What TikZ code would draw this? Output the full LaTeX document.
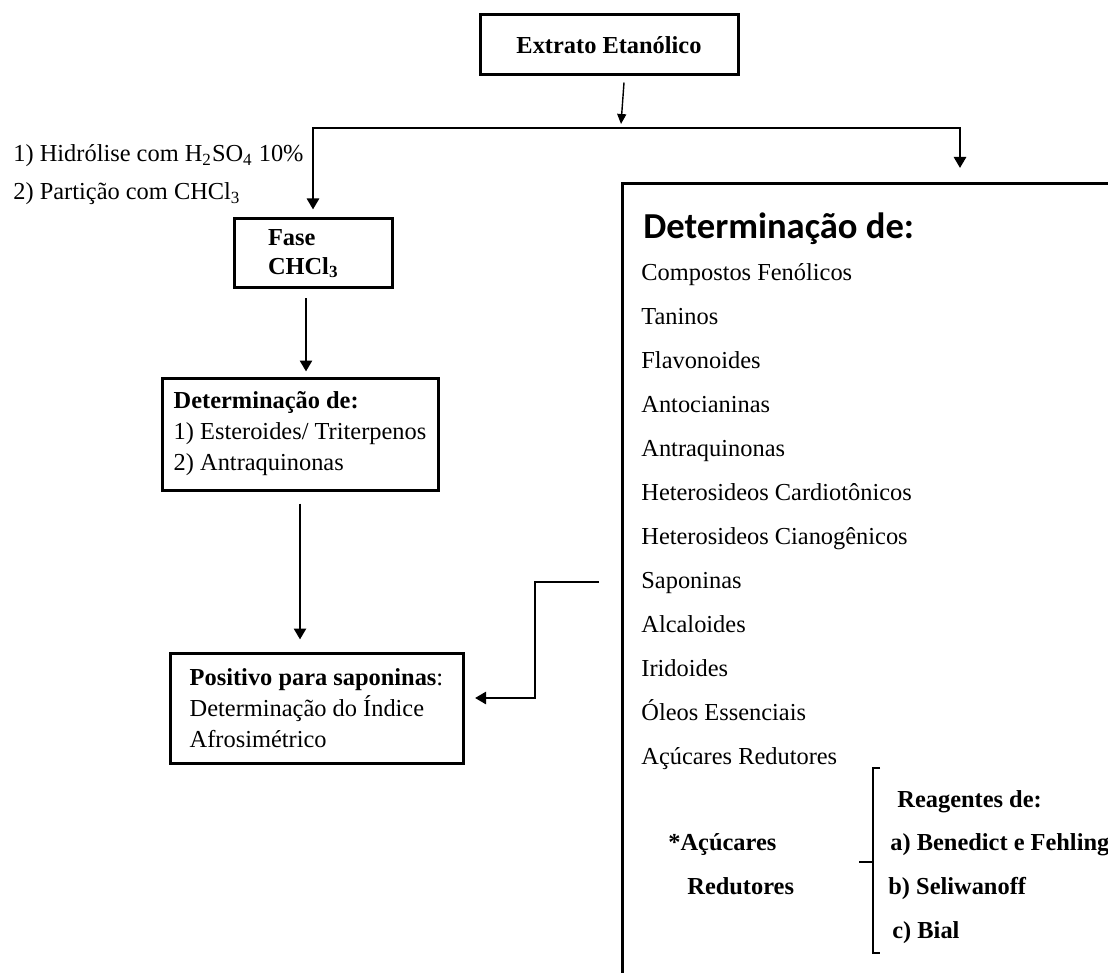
\documentclass[tikz,border=0pt]{standalone}
\usepackage{fontspec}
\setmainfont{Liberation Serif}
\newfontfamily\calibrifont{Carlito}
\usepackage{tikz}
\usetikzlibrary{arrows.meta,positioning,calc}

\begin{document}
\begin{tikzpicture}[x=0.5pt,y=-0.5pt,
    font=\fontsize{12.2}{15.5}\selectfont,
    >={Triangle[width=6pt,length=5.5pt]},
    box/.style={draw, rectangle, line width=1.5pt, inner ysep=0pt},
    conn/.style={line width=1.3pt},
    thinarrow/.style={line width=0.7pt, -{Triangle[width=4.5pt,length=5pt]}},
    listitem/.style={anchor=base west, inner sep=0pt},
    bolditem/.style={listitem, font=\fontsize{12.2}{15.5}\selectfont\bfseries}]
    \useasboundingbox (0,0) rectangle (1108,973);
    \clip (0,0) rectangle (1108,973);

    % Boxes
    \node[box, minimum width=129pt, minimum height=30pt, font=\fontsize{12.2}{15.5}\selectfont\bfseries] (extrato) at (609,45) {Extrato Etanólico};
    \node[box, minimum width=79pt, minimum height=34.5pt, text width=45pt, inner xsep=17pt, align=left, font=\fontsize{12.2}{14.5}\selectfont\bfseries] (fase) at (313,253.5) {Fase\\CHCl\textsubscript{3}};
    \node[box, minimum width=138pt, minimum height=56pt, align=left] (det1) at (300,434) {\textbf{Determinação de:}\\1) Esteroides/ Triterpenos\\2) Antraquinonas};
    \node[box, minimum width=146.5pt, minimum height=55pt, align=left] (pos) at (316.5,708) {\textbf{Positivo para saponinas}:\\Determinação do Índice\\Afrosimétrico};
    \node[box, anchor=north west, minimum width=300pt, minimum height=470pt] (detbox) at (621,182) {};

    % Labels
    \node[listitem] (hidrolise) at (13,162) {1) Hidrólise com H\textsubscript{2}SO\textsubscript{4} 10\%};
    \node[listitem] (particao) at (13,200) {2) Partição com CHCl\textsubscript{3}};
    \node[listitem, font=\fontsize{18.3}{22}\selectfont\calibrifont\bfseries] (dethead) at (643,239) {Determinação de:};
    \foreach \nome [count=\i] in {Compostos Fenólicos, Taninos, Flavonoides, Antocianinas, Antraquinonas, Heterosideos Cardiotônicos, Heterosideos Cianogênicos, Saponinas, Alcaloides, Iridoides, Óleos Essenciais, Açúcares Redutores}
        \node[listitem] (it\i) at (641,{280+44*(\i-1)}) {\nome};
    \node[bolditem] (acuc1) at (668,850) {*Açúcares};
    \node[bolditem] (acuc2) at (687,894) {Redutores};
    \node[bolditem] (reag) at (897,807) {Reagentes de:};
    \node[bolditem] (ra) at (890,850) {a) Benedict e Fehling};
    \node[bolditem] (rb) at (888,894) {b) Seliwanoff};
    \node[bolditem] (rc) at (892,938) {c) Bial};

    % Bracket
    \draw[line width=0.8pt] (880,768) -- (873,768) -- (873,953) -- (880,953);
    \draw[line width=0.8pt] (859,862) -- (873,862);

    % Arrows
    \coordinate (split) at (621,124);
    \coordinate (brR) at (960,128);
    \coordinate (faseout) at ($(fase.south)+(-7,0)$);
    \coordinate (sapout) at ($(detbox.west |- it8.base)+(-22,-6)$);
    \draw[thinarrow] ($(extrato.south)+(15,6)$) -- (split);
    \draw[conn,<->,shorten <=4pt,shorten >=7pt] (fase.north) |- (brR) -- (brR |- detbox.north);
    \draw[conn,->,shorten <=4.5pt,shorten >=2.5pt] (faseout) -- (faseout |- det1.north);
    \draw[conn,->,shorten <=6pt,shorten >=6pt] (det1.south) -- (det1.south |- pos.north);
    \draw[conn,->,shorten >=5.25pt] (sapout) -- ++(-64,0) |- ([yshift=5pt]pos.east);
\end{tikzpicture}
\end{document}
